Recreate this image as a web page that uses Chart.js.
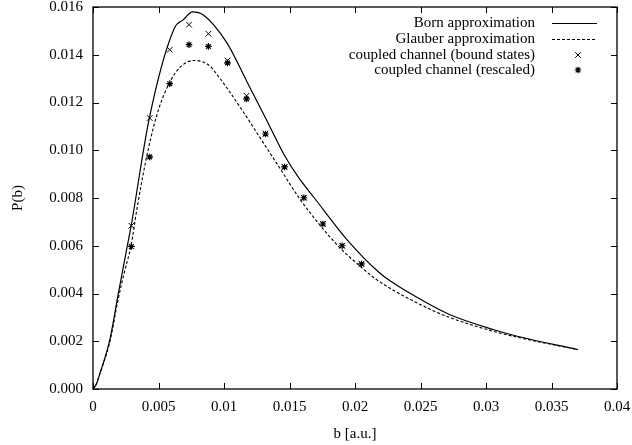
<!DOCTYPE html>
<html>
<head>
<meta charset="utf-8">
<script src="https://cdn.jsdelivr.net/npm/chart.js@4/dist/chart.umd.min.js"></script>
<style>
  html, body { margin: 0; padding: 0; background: #fff; }
  #wrap { width: 632px; height: 445px; position: relative; }
</style>
</head>
<body>
<div id="wrap"><canvas id="c" width="632" height="445"></canvas></div>
<script>
// Impact parameter b [a.u.] and probability P(b)
const bornB = [0, 0.00025, 0.0005, 0.0013, 0.0019, 0.00255, 0.0029, 0.0043, 0.0062, 0.0069, 0.0076, 0.0084, 0.0102, 0.0118, 0.0132, 0.0146, 0.0157, 0.0169, 0.0194, 0.0218, 0.0227, 0.0255, 0.0273, 0.0306, 0.0323, 0.0370];
const bornP = [0, 0.0002, 0.0006, 0.0021, 0.0039, 0.0058, 0.0068, 0.01135, 0.0151, 0.01547, 0.0158, 0.01568, 0.01452, 0.01282, 0.01132, 0.0098, 0.00885, 0.0080, 0.00625, 0.0049, 0.00452, 0.0036, 0.0031, 0.00248, 0.00222, 0.00165];

const glauberB = [0, 0.00025, 0.0005, 0.0013, 0.0019, 0.0024, 0.0029, 0.0034, 0.0042, 0.0050, 0.00586, 0.0066, 0.0077, 0.0088, 0.0097, 0.0103, 0.0116, 0.0129, 0.0142, 0.0158, 0.0173, 0.01885, 0.0204, 0.02165, 0.0255, 0.0273, 0.0306, 0.0323, 0.0370];
const glauberP = [0, 0.0002, 0.0006, 0.0020, 0.0037, 0.0049, 0.0060, 0.0077, 0.0100, 0.0117, 0.01285, 0.01345, 0.01376, 0.01358, 0.0130, 0.01255, 0.0115, 0.0104, 0.0093, 0.00795, 0.00688, 0.00591, 0.00514, 0.00458, 0.0034, 0.00298, 0.00241, 0.00218, 0.00165];

const ccB = [0.00293, 0.00433, 0.00586, 0.00733, 0.00881, 0.01027, 0.01172, 0.01317, 0.01462, 0.0161, 0.01755, 0.01902, 0.0205];
const ccBoundP = [0.00684, 0.01135, 0.01421, 0.01526, 0.01488, 0.01376, 0.01228, 0.0107, 0.0093, 0.00801, 0.00692, 0.0060, 0.00524];
const ccRescaledP = [0.00597, 0.00972, 0.01279, 0.01442, 0.01435, 0.01366, 0.01215, 0.01068, 0.0093, 0.00801, 0.00691, 0.0060, 0.00524];

const xTicks = [0, 0.005, 0.01, 0.015, 0.02, 0.025, 0.03, 0.035, 0.04];
const yTicks = [0, 0.002, 0.004, 0.006, 0.008, 0.010, 0.012, 0.014, 0.016];

const seriesLabels = [
  'Born approximation',
  'Glauber approximation',
  'coupled channel (bound states)',
  'coupled channel (rescaled)'
];

const FONT = '"Liberation Serif", "Times New Roman", serif';
const pts = (xs, ys) => xs.map((x, i) => ({ x: x, y: ys[i] }));

// Inward tick marks on all four sides plus the frame
const framePlugin = {
  id: 'frame',
  afterDatasetsDraw(chart) {
    const { ctx, chartArea: a, scales } = chart;
    const len = 6;
    ctx.save();
    ctx.strokeStyle = '#000';
    ctx.lineWidth = 1;
    ctx.beginPath();
    xTicks.forEach(v => {
      const px = Math.round(scales.x.getPixelForValue(v)) + 0.5;
      ctx.moveTo(px, a.bottom); ctx.lineTo(px, a.bottom - len);
      ctx.moveTo(px, a.top); ctx.lineTo(px, a.top + len);
    });
    yTicks.forEach(v => {
      const py = Math.round(scales.y.getPixelForValue(v)) + 0.5;
      ctx.moveTo(a.left, py); ctx.lineTo(a.left + len, py);
      ctx.moveTo(a.right, py); ctx.lineTo(a.right - len, py);
    });
    ctx.stroke();
    ctx.lineWidth = 1.3;
    ctx.strokeRect(a.left, a.top, a.right - a.left, a.bottom - a.top);
    ctx.restore();
  }
};

// Key in the upper right: right-aligned text followed by the sample
const keyPlugin = {
  id: 'key',
  afterDraw(chart) {
    const { ctx } = chart;
    const textRight = 535;
    const rowY = [23, 39, 55, 70];
    const sx0 = 552, sx1 = 597, sxm = 578;
    ctx.save();
    ctx.font = '15px ' + FONT;
    ctx.fillStyle = '#000';
    ctx.textAlign = 'right';
    ctx.textBaseline = 'middle';
    chart.data.datasets.forEach((ds, i) => {
      const y = rowY[i];
      ctx.fillText(ds.label, textRight, y);
      ctx.strokeStyle = '#000';
      if (ds.showLine) {
        ctx.lineWidth = ds.borderWidth;
        ctx.setLineDash(ds.borderDash || []);
        ctx.beginPath();
        ctx.moveTo(sx0, y + 0.5); ctx.lineTo(sx1, y + 0.5);
        ctx.stroke();
        ctx.setLineDash([]);
      } else {
        ctx.lineWidth = ds.borderWidth;
        Chart.helpers.drawPoint(ctx, {
          pointStyle: ds.pointStyle,
          radius: ds.pointRadius,
          borderWidth: ds.borderWidth,
          rotation: 0
        }, sxm, y);
      }
    });
    ctx.restore();
  }
};

new Chart(document.getElementById('c'), {
  type: 'scatter',
  data: {
    datasets: [
      {
        label: seriesLabels[0],
        data: pts(bornB, bornP),
        showLine: true, cubicInterpolationMode: 'monotone',
        borderColor: '#000', borderWidth: 1.2,
        pointRadius: 0
      },
      {
        label: seriesLabels[1],
        data: pts(glauberB, glauberP),
        showLine: true, cubicInterpolationMode: 'monotone',
        borderColor: '#000', borderWidth: 1.1, borderDash: [3, 2],
        pointRadius: 0
      },
      {
        label: seriesLabels[2],
        data: pts(ccB, ccBoundP),
        showLine: false,
        pointStyle: 'crossRot', pointRadius: 4,
        borderColor: '#000', backgroundColor: '#000', borderWidth: 1
      },
      {
        label: seriesLabels[3],
        data: pts(ccB, ccRescaledP),
        showLine: false,
        pointStyle: 'star', pointRadius: 3.3,
        borderColor: '#000', backgroundColor: '#000', borderWidth: 1.2
      }
    ]
  },
  options: {
    responsive: false,
    animation: false,
    devicePixelRatio: 1,
    layout: { padding: { top: 7, right: 15, left: 0, bottom: 0 } },
    plugins: { legend: { display: false }, tooltip: { enabled: false } },
    scales: {
      x: {
        type: 'linear', min: 0, max: 0.04,
        afterBuildTicks: s => { s.ticks = xTicks.map(v => ({ value: v })); },
        afterFit: s => { s.height = 56; s.paddingLeft = 0; s.paddingRight = 0; },
        grid: { display: false, drawTicks: false },
        border: { display: false },
        ticks: {
          color: '#000', padding: 9,
          font: { family: FONT, size: 15 },
          maxRotation: 0,
          callback: v => String(Number(v.toFixed(3)))
        },
        title: {
          display: true, text: 'b [a.u.]', color: '#000',
          font: { family: FONT, size: 15 },
          padding: { top: 0, bottom: 2 }
        }
      },
      y: {
        type: 'linear', min: 0, max: 0.016,
        afterBuildTicks: s => { s.ticks = yTicks.map(v => ({ value: v })); },
        afterFit: s => { s.width = 93; s.paddingTop = 0; s.paddingBottom = 0; },
        grid: { display: false, drawTicks: false },
        border: { display: false },
        ticks: {
          color: '#000', padding: 10,
          font: { family: FONT, size: 15 },
          callback: v => v.toFixed(3)
        },
        title: {
          display: true, text: 'P(b)', color: '#000',
          font: { family: FONT, size: 15 },
          padding: { top: 9, bottom: 0 }
        }
      }
    }
  },
  plugins: [framePlugin, keyPlugin]
});
</script>
</body>
</html>
